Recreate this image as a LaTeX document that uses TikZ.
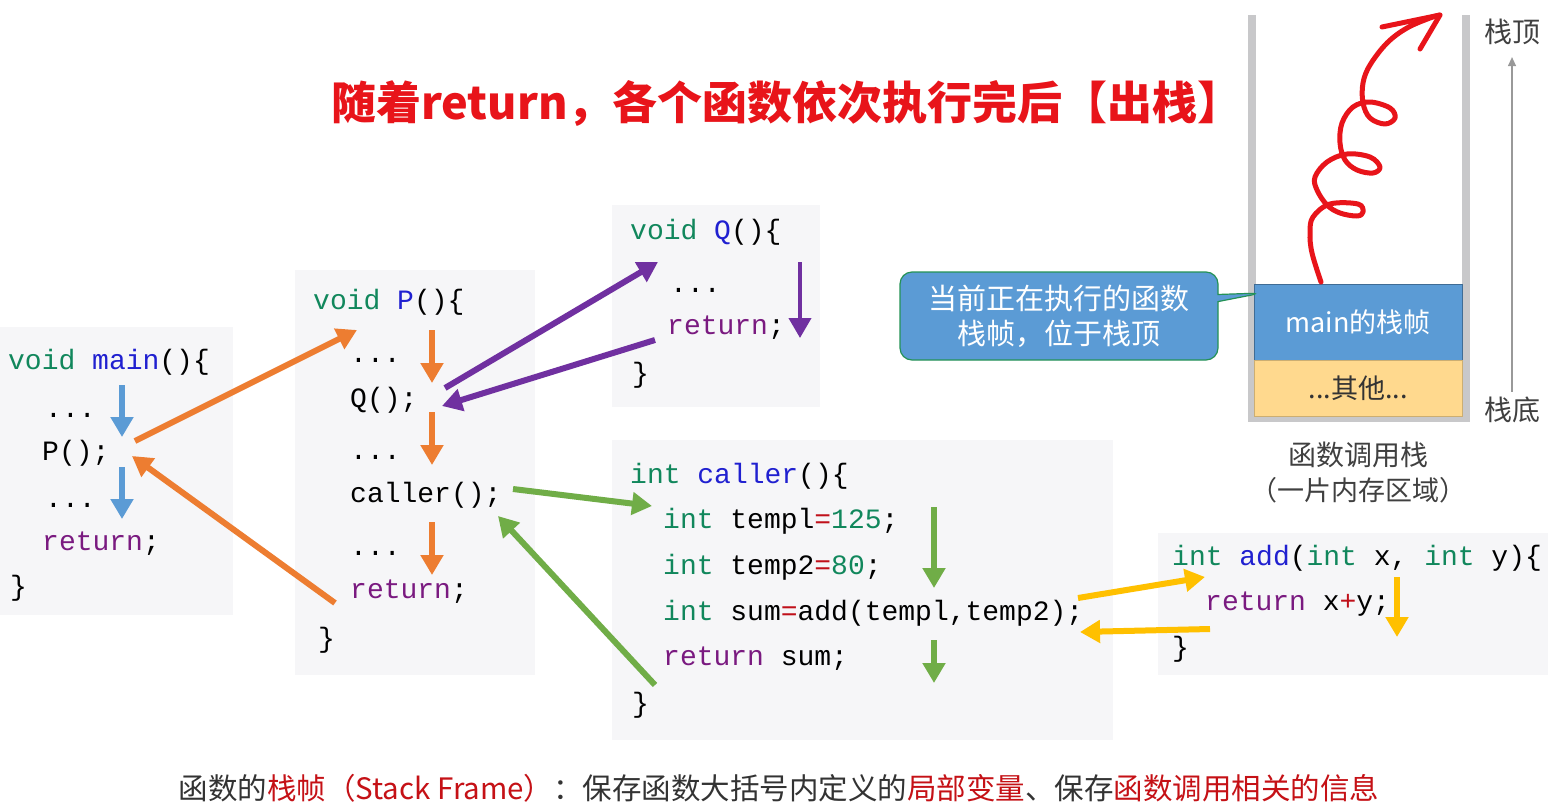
\documentclass[tikz,border=0pt]{standalone}
\usepackage{fontspec}
\setmainfont{Liberation Sans}
\newfontfamily\cjk{Noto Sans CJK SC}
\newfontfamily\code{Liberation Mono}
\usetikzlibrary{arrows.meta,shapes.callouts}
\definecolor{kw}{HTML}{11875C}
\definecolor{fn}{HTML}{2020D0}
\definecolor{rt}{HTML}{7A1A80}
\definecolor{eq}{HTML}{C0101A}
\definecolor{boxbg}{HTML}{F6F6F8}
\definecolor{ablue}{HTML}{5B9BD5}
\definecolor{aorange}{HTML}{ED7D31}
\definecolor{apurple}{HTML}{7030A0}
\definecolor{agreen}{HTML}{70AD47}
\definecolor{ayellow}{HTML}{FFC000}
\definecolor{ared}{HTML}{E8141A}
\definecolor{otherbg}{HTML}{FFD98E}
\definecolor{wall}{HTML}{C8C8CA}
\newcommand{\kw}[1]{{\color{kw}#1}}
\newcommand{\fn}[1]{{\color{fn}#1}}
\newcommand{\rt}[1]{{\color{rt}#1}}
\newcommand{\eq}[1]{{\color{eq}#1}}
\tikzset{
  codeline/.style={anchor=west, inner sep=0pt, text height=20pt, text depth=6pt,
    font=\code\fontsize{28}{28}\selectfont},
  codebox/.style={fill=boxbg, draw=none},
  flow/.style={line width=6pt, -{Triangle[length=20pt,width=22pt]}},
  cjktext/.style={inner sep=0pt, font=\cjk\fontsize{#1}{#1}\selectfont},
}
\begin{document}
\begin{tikzpicture}[x=1pt,y=-1pt]
	\fill[white] (0,0) rectangle (1548,811);
	% title
	\node[cjktext=45, text=ared] (title) at (787,103) {\bfseries 随着return，各个函数依次执行完后【出栈】};
	% code boxes
	\fill[codebox] (0,327) rectangle (233,615);
	\fill[codebox] (295,270) rectangle (535,675);
	\fill[codebox] (612,205) rectangle (820,407);
	\fill[codebox] (612,440) rectangle (1113,740);
	\fill[codebox] (1158,533) rectangle (1548,675);
	% main
	\node[codeline] (m0) at (8,362) {\kw{void} \fn{main}()\{};
	\node[codeline] (m1) at (45,410) {...};
	\node[codeline] (m2) at (42,453) {P();};
	\node[codeline] (m3) at (45,500) {...};
	\node[codeline] (m4) at (42,543) {\rt{return};};
	\node[codeline] (m5) at (10,588) {\}};
	% P
	\node[codeline] (p0) at (313,302) {\kw{void} \fn{P}()\{};
	\node[codeline] (p1) at (350,355) {...};
	\node[codeline] (p2) at (350,400) {Q();};
	\node[codeline] (p3) at (350,452) {...};
	\node[codeline] (p4) at (350,495) {caller();};
	\node[codeline] (p5) at (350,548) {...};
	\node[codeline] (p6) at (350,591) {\rt{return};};
	\node[codeline] (p7) at (318,640) {\}};
	% Q
	\node[codeline] (q0) at (630,232) {\kw{void} \fn{Q}()\{};
	\node[codeline] (q1) at (670,285) {...};
	\node[codeline] (q2) at (667,327) {\rt{return};};
	\node[codeline] (q3) at (632,375) {\}};
	% caller
	\node[codeline] (c0) at (630,476) {\kw{int} \fn{caller}()\{};
	\node[codeline] (c1) at (663,521) {\kw{int} templ\eq{=}\kw{125};};
	\node[codeline] (c2) at (663,567) {\kw{int} temp2\eq{=}\kw{80};};
	\node[codeline] (c3) at (663,613) {\kw{int} sum\eq{=}add(templ,temp2);};
	\node[codeline] (c4) at (663,658) {\rt{return} sum;};
	\node[codeline] (c5) at (632,705) {\}};
	% add
	\node[codeline] (a0) at (1172,558) {\kw{int} \fn{add}(\kw{int} x, \kw{int} y)\{};
	\node[codeline] (a1) at (1205,603) {\rt{return} x\eq{+}y;};
	\node[codeline] (a2) at (1172,649) {\}};
	% arrow ends
	\coordinate (mA) at (122,385); \coordinate (mB) at (122,437);
	\coordinate (mC) at (122,467); \coordinate (mD) at (122,519);
	\coordinate (pA) at (432,330); \coordinate (pB) at (432,383);
	\coordinate (pC) at (432,412); \coordinate (pD) at (432,465);
	\coordinate (pE) at (432,522); \coordinate (pF) at (432,575);
	\coordinate (callP) at (135,441); \coordinate (intoP) at (357,330);
	\coordinate (retP) at (335,603); \coordinate (backM) at (132,456);
	\coordinate (callQ) at (445,388); \coordinate (intoQ) at (658,262);
	\coordinate (retQ) at (655,340); \coordinate (backP) at (442,406);
	\coordinate (qA) at (800,262); \coordinate (qB) at (800,338);
	\coordinate (callC) at (513,489); \coordinate (intoC) at (652,506);
	\coordinate (retC) at (655,685); \coordinate (backP2) at (498,516);
	\coordinate (cA) at (934,507); \coordinate (cB) at (934,588);
	\coordinate (cC) at (934,640); \coordinate (cD) at (934,683);
	\coordinate (callA) at (1078,598); \coordinate (intoA) at (1205,577);
	\coordinate (retA) at (1210,629); \coordinate (backC) at (1080,632);
	\coordinate (aA) at (1397,577); \coordinate (aB) at (1397,637);
	% arrows
	\draw[flow,ablue] (mA) -- (mB);
	\draw[flow,ablue] (mC) -- (mD);
	\draw[flow,aorange] (pA) -- (pB);
	\draw[flow,aorange] (pC) -- (pD);
	\draw[flow,aorange] (pE) -- (pF);
	\draw[flow,aorange] (callP) -- (intoP);
	\draw[flow,aorange] (retP) -- (backM);
	\draw[flow,apurple] (callQ) -- (intoQ);
	\draw[flow,apurple] (retQ) -- (backP);
	\draw[flow,apurple,line width=4pt] (qA) -- (qB);
	\draw[flow,agreen] (callC) -- (intoC);
	\draw[flow,agreen] (retC) -- (backP2);
	\draw[flow,agreen] (cA) -- (cB);
	\draw[flow,agreen] (cC) -- (cD);
	\draw[flow,ayellow] (callA) -- (intoA);
	\draw[flow,ayellow] (retA) -- (backC);
	\draw[flow,ayellow] (aA) -- (aB);
	% stack
	\fill[wall] (1248,15) rectangle (1256,422);
	\fill[wall] (1462,15) rectangle (1470,422);
	\fill[wall] (1248,416) rectangle (1470,422);
	\node[draw=ablue!70!black, fill=ablue, minimum width=208pt, minimum height=76pt,
	  anchor=north west, text=white, cjktext=27] (mainframe) at (1254,284) {main的栈帧};
	\node[draw=otherbg!80!black, fill=otherbg, minimum width=208pt, minimum height=56pt,
	  anchor=north west, text=black!80, cjktext=27] (other) at (1254,360) {...其他...};
	\node[cjktext=28, text=black!75] (top) at (1512,32) {栈顶};
	\node[cjktext=28, text=black!75] (bottom) at (1512,410) {栈底};
	\draw[black!40, line width=1.2pt, -{Triangle[length=9pt,width=8pt]}] ([yshift=5pt]bottom.north) -- ([yshift=-12pt]top.south);
	\node[cjktext=28, text=black!75] (stackname) at (1358,455) {函数调用栈};
	\node[cjktext=27, text=black!75] (stacknote) at (1358,490) {（一片内存区域）};
	% callout
	\node[rectangle callout, callout absolute pointer={(1262,293)}, fill=ablue,
	  draw=black!45!green!60!ablue, line width=1.2pt, rounded corners=12pt,
	  minimum width=318pt, minimum height=88pt, align=center, text=white,
	  cjktext=29] (current) at (1059,316) {当前正在执行的函数\\[6pt]栈帧，位于栈顶};
	% red scribble
	\draw[ared, line width=5pt, line cap=round, line join=round] plot[smooth, tension=0.6] coordinates {
	  (1321,282) (1312,253) (1310,233) (1313,217) (1330,204) (1358,204) (1363,212)
	  (1357,216) (1340,213) (1327,205) (1317,190) (1315,177) (1327,162) (1347,154)
	  (1370,157) (1380,167) (1373,173) (1357,170) (1345,160) (1340,143) (1342,123)
	  (1353,107) (1370,102) (1390,108) (1395,118) (1385,124) (1370,118) (1363,103)
	  (1363,83) (1370,65) (1387,43) (1407,28) (1430,18) (1440,15)};
	\draw[ared, line width=5pt, line cap=round, line join=round] (1382,27) -- (1440,15) -- (1420,49);
	% footer
	\node[cjktext=29.5, text=black!80] (footer) at (779,788) {函数的\textcolor{ared!85!black}{栈帧（Stack Frame）}：保存函数大括号内定义的\textcolor{ared!85!black}{局部变量}、保存\textcolor{ared!85!black}{函数调用相关的信息}};
\end{tikzpicture}
\end{document}
